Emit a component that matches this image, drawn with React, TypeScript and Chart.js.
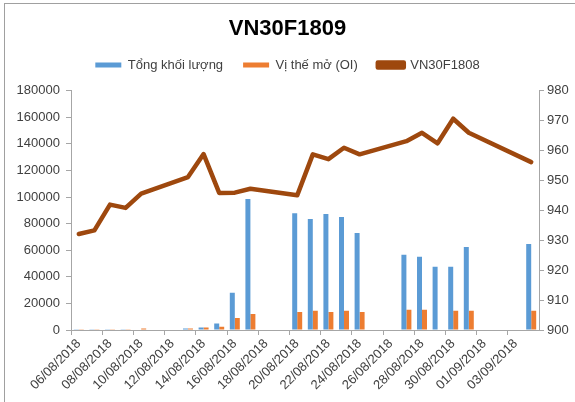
import React, { useEffect, useRef } from 'react';
import { Chart, registerables } from 'chart.js';

Chart.register(...registerables);

const dates = [
  '06/08/2018', '07/08/2018', '08/08/2018', '09/08/2018', '10/08/2018', '11/08/2018',
  '12/08/2018', '13/08/2018', '14/08/2018', '15/08/2018', '16/08/2018', '17/08/2018',
  '18/08/2018', '19/08/2018', '20/08/2018', '21/08/2018', '22/08/2018', '23/08/2018',
  '24/08/2018', '25/08/2018', '26/08/2018', '27/08/2018', '28/08/2018', '29/08/2018',
  '30/08/2018', '31/08/2018', '01/09/2018', '02/09/2018', '03/09/2018', '04/09/2018',
];

const volume = [
  200, 250, 200, 250, 400, null, null, 1200, 1800, 4800, 28000, 98500,
  null, null, 87800, 83500, 87200, 85000, 73000, null, null, 56500, 55000, 47500,
  47500, 62500, null, null, null, 64700,
];

const openInterest = [
  150, 200, 200, 200, 1200, null, null, 1200, 1800, 2500, 9000, 12000,
  null, null, 13500, 14500, 13500, 14500, 13500, null, null, 15200, 15200, null,
  14500, 14500, null, null, null, 14500,
];

const vn30f1808 = [
  932.1, 933.3, 941.9, 940.8, 945.6, null, null, 951.1, 958.8, 945.8, 945.9, 947.2,
  null, null, 945.0, 958.7, 957.1, 960.9, 958.7, null, null, 963.1, 965.9, 962.4,
  970.6, 965.9, null, null, null, 956.1,
];

const seriesNames = ['Tổng khối lượng', 'Vị thế mở (OI)', 'VN30F1808'];
const chartTitle = 'VN30F1809';

const FONT = "'Liberation Sans', Arial, sans-serif";
const AXIS = '#a6a6a6';
const TEXT = '#404040';

const frame = {
  id: 'frame',
  beforeDraw(chart: any) {
    const c = chart.ctx;
    c.save();
    c.fillStyle = '#ffffff';
    c.fillRect(0, 0, chart.width, chart.height);
    c.strokeStyle = '#a0a0a0';
    c.lineWidth = 1;
    c.strokeRect(4.5, 3.5, 700, 600);
    c.restore();
  },
};

export default function App() {
  const ref = useRef<HTMLCanvasElement | null>(null);

  useEffect(() => {
    if (!ref.current) return;
    const chart = new Chart(ref.current, {
      type: 'bar',
      data: {
        labels: dates,
        datasets: [
          {
            type: 'bar',
            label: seriesNames[0],
            data: volume as any,
            backgroundColor: '#5B9BD5',
            yAxisID: 'y',
            barPercentage: 1,
            categoryPercentage: 0.64,
            order: 2,
          },
          {
            type: 'bar',
            label: seriesNames[1],
            data: openInterest as any,
            backgroundColor: '#ED7D31',
            yAxisID: 'y',
            barPercentage: 1,
            categoryPercentage: 0.64,
            order: 2,
          },
          {
            type: 'line',
            label: seriesNames[2],
            data: vn30f1808 as any,
            borderColor: '#9E480E',
            backgroundColor: '#9E480E',
            borderWidth: 4.5,
            pointRadius: 0,
            spanGaps: true,
            yAxisID: 'y1',
            order: 0,
            borderCapStyle: 'round',
            borderJoinStyle: 'round',
          } as any,
        ],
      },
      options: {
        animation: false,
        responsive: true,
        maintainAspectRatio: false,
        layout: { padding: 0 },
        plugins: {
          tooltip: { enabled: false },
          title: {
            display: true,
            text: chartTitle,
            color: '#000000',
            font: { family: FONT, size: 22, weight: 'bold', lineHeight: 0.8 },
            padding: { top: 20, bottom: 1 },
          },
          legend: {
            display: true,
            position: 'top',
            labels: {
              color: TEXT,
              font: { family: FONT, size: 13 },
              boxWidth: 26,
              boxHeight: 5,
              padding: 20,
              sort: (a: any, b: any) => a.datasetIndex - b.datasetIndex,
            },
          },
        },
        scales: {
          xTop: {
            type: 'category',
            position: 'top',
            display: true,
            grid: { display: false },
            ticks: { display: false },
            border: { display: false },
            afterFit: (s: any) => { s.height = 9; },
          } as any,
          x: {
            type: 'category',
            offset: true,
            grid: {
              offset: true,
              drawOnChartArea: false,
              drawTicks: true,
              tickLength: 5,
              color: (ctx: any) => (ctx.index % 2 === 0 ? AXIS : 'rgba(0,0,0,0)'),
            },
            border: { display: true, color: AXIS },
            ticks: {
              autoSkip: false,
              maxRotation: 45,
              minRotation: 45,
              color: TEXT,
              font: { family: FONT, size: 13 },
              padding: 1,
              callback: (_v: any, i: number) => (i % 2 === 0 ? dates[i] : ''),
            },
            afterFit: (s: any) => { s.height = 72; },
          },
          y: {
            type: 'linear',
            position: 'left',
            min: 0,
            max: 180000,
            grid: { drawOnChartArea: false, drawTicks: true, tickLength: 5, color: AXIS },
            border: { display: true, color: AXIS },
            ticks: {
              stepSize: 20000,
              color: TEXT,
              font: { family: FONT, size: 13 },
              padding: 6,
              callback: (v: any) => String(v),
            },
            afterFit: (s: any) => { s.width = 71; },
          },
          y1: {
            type: 'linear',
            position: 'right',
            min: 900,
            max: 980,
            grid: { drawOnChartArea: false, drawTicks: true, tickLength: 5, color: AXIS },
            border: { display: true, color: AXIS },
            ticks: {
              stepSize: 10,
              color: TEXT,
              font: { family: FONT, size: 13 },
              padding: 3,
              callback: (v: any) => String(v),
            },
            afterFit: (s: any) => { s.width = 36; },
          },
        },
      },
      plugins: [frame],
    });
    return () => chart.destroy();
  }, []);

  return (
    <div style={{ position: 'fixed', left: 0, top: 0, width: 575, height: 402, background: '#fff' }}>
      <canvas ref={ref} />
    </div>
  );
}
